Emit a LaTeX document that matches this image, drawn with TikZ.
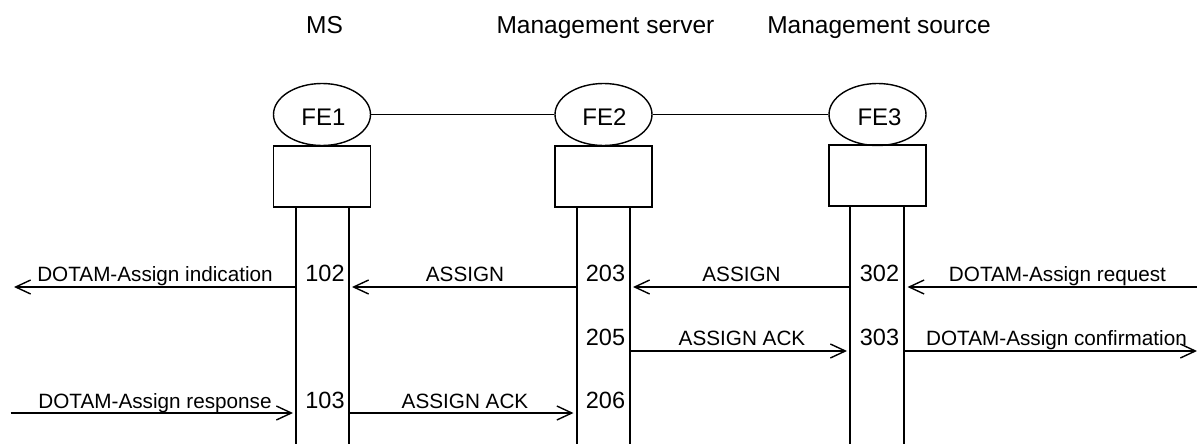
\documentclass[tikz,border=0pt]{standalone}
\usepackage{fontspec}
\setmainfont{Liberation Sans}
\usetikzlibrary{arrows.meta,shapes.geometric}
\begin{document}
\begin{tikzpicture}[x=1pt,y=-1pt,
  ln/.style={line width=1.4pt},
  msg/.style={ln,-{Straight Barb[length=15pt,width=14pt,line width=1.4pt]}},
  fe/.style={ellipse,draw,line width=1.4pt,minimum width=97pt,minimum height=62pt,inner sep=0pt},
  blk/.style={rectangle,draw,line width=1.4pt,minimum width=97pt,minimum height=61pt,inner sep=0pt},
  ttl/.style={anchor=base,font=\fontsize{24.5}{28}\selectfont,inner sep=0pt},
  fet/.style={anchor=base,font=\fontsize{24}{28}\selectfont,inner sep=0pt},
  num/.style={anchor=base,font=\fontsize{23.5}{28}\selectfont,inner sep=0pt},
  lab/.style={anchor=base,font=\fontsize{20.7}{24}\selectfont,inner sep=0pt}]
\useasboundingbox (0,0) rectangle (1197,444);
% titles
\node[ttl] (t1) at (324.5,33.3) {MS};
\node[ttl] (t2) at (605.5,33.3) {Management server};
\node[ttl] (t3) at (879,33.3) {Management source};
% ellipses
\node[fe] (fe1) at (322,114.5) {};
\node[fe] (fe2) at (603.5,114.5) {};
\node[fe] (fe3) at (877.5,114.5) {};
\node[fet] (fe1t) at (323.5,125) {FE1};
\node[fet] (fe2t) at (604.5,125) {FE2};
\node[fet] (fe3t) at (879.5,125) {FE3};
\draw[ln] (fe1.east) -- (fe2.west);
\draw[ln] (fe2.east) -- (fe3.west);
% boxes
\node[blk] (b1) at (322,176.5) {};
\node[blk] (b2) at (603.5,176.5) {};
\node[blk] (b3) at (877.5,175.5) {};
% lifelines
\coordinate (l1a) at (296,207); \coordinate (l1b) at (296,444);
\coordinate (r1a) at (349,207); \coordinate (r1b) at (349,444);
\coordinate (l2a) at (577,207); \coordinate (l2b) at (577,444);
\coordinate (r2a) at (630,207); \coordinate (r2b) at (630,444);
\coordinate (l3a) at (850,206); \coordinate (l3b) at (850,444);
\coordinate (r3a) at (904,206); \coordinate (r3b) at (904,444);
\draw[ln] (l1a) -- (l1b); \draw[ln] (r1a) -- (r1b);
\draw[ln] (l2a) -- (l2b); \draw[ln] (r2a) -- (r2b);
\draw[ln] (l3a) -- (l3b); \draw[ln] (r3a) -- (r3b);
% row coordinates
\coordinate (a1) at (296,287); \coordinate (a1e) at (14,287);
\coordinate (a2) at (577,287); \coordinate (a2e) at (352,287);
\coordinate (a3) at (850,287); \coordinate (a3e) at (633,287);
\coordinate (a4) at (1197,287); \coordinate (a4e) at (907.5,287);
\coordinate (b1s) at (630,351); \coordinate (b1e) at (847,351);
\coordinate (b2s) at (904,351); \coordinate (b2e) at (1197,351);
\coordinate (c1s) at (10.7,413); \coordinate (c1e) at (293,413);
\coordinate (c2s) at (349,413); \coordinate (c2e) at (573.5,413);
% messages
\draw[msg] (a1) -- (a1e);
\draw[msg] (a2) -- (a2e);
\draw[msg] (a3) -- (a3e);
\draw[msg] (a4) -- (a4e);
\draw[msg] (b1s) -- (b1e);
\draw[msg] (b2s) -- (b2e);
\draw[msg] (c1s) -- (c1e);
\draw[msg] (c2s) -- (c2e);
% labels
\node[lab] (m1) at (155,281.7) {DOTAM-Assign indication};
\node[lab] (m2) at (465,281.7) {ASSIGN};
\node[lab] (m3) at (741.5,281.7) {ASSIGN};
\node[lab] (m4) at (1057.5,281.7) {DOTAM-Assign request};
\node[lab] (m5) at (742,345.5) {ASSIGN ACK};
\node[lab] (m6) at (1056.5,345.5) {DOTAM-Assign confirmation};
\node[lab] (m7) at (155,408.3) {DOTAM-Assign response};
\node[lab] (m8) at (465,408.3) {ASSIGN ACK};
% numbers
\node[num] (n102) at (325,281.7) {102};
\node[num] (n203) at (605.5,281.7) {203};
\node[num] (n302) at (879.5,281.7) {302};
\node[num] (n205) at (605.5,345.5) {205};
\node[num] (n303) at (879.5,345.5) {303};
\node[num] (n103) at (325,408.3) {103};
\node[num] (n206) at (605.5,408.3) {206};
\end{tikzpicture}
\end{document}
